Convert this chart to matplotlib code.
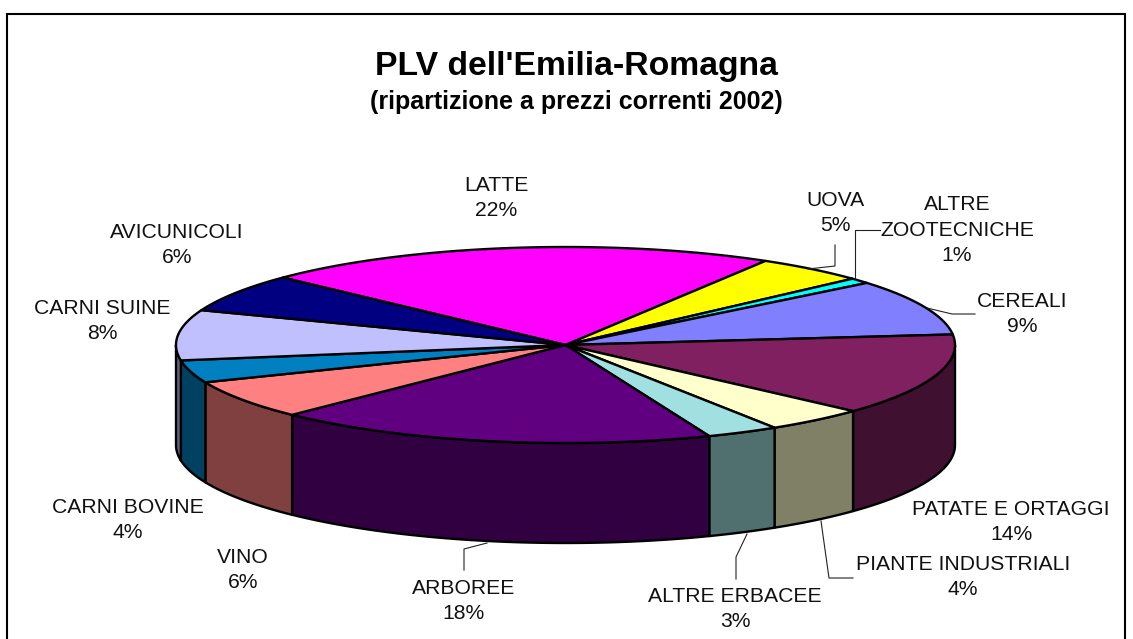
# -*- coding: utf-8 -*-
"""
PLV dell'Emilia-Romagna, torta 3D
"""

import matplotlib
matplotlib.use('Agg')
import matplotlib.pyplot as plt
from matplotlib.patches import Polygon, Rectangle
import numpy as np

# dati
names = ['LATTE', 'UOVA', 'ALTRE\nZOOTECNICHE', 'CEREALI', 'PATATE E ORTAGGI',
         'PIANTE INDUSTRIALI', 'ALTRE ERBACEE', 'ARBOREE', 'VINO',
         'CARNI BOVINE', 'CARNI SUINE', 'AVICUNICOLI']
values = [21.5, 4.6, 0.9, 9.2, 13.5, 4.2, 3.0, 18.4, 6.4, 3.7, 8.3, 6.3]
colors = ['#FF00FF', '#FFFF00', '#00FFFF', '#8080FF', '#802060', '#FFFFCC',
          '#A0E0E0', '#600080', '#FF8080', '#0080C0', '#C0C0FF', '#000080']

# centri delle etichette (pixel)
label_x = [496, 835, 957, 1022, 1011, 963, 735, 464, 243, 128, 102, 177]
label_y = [198, 213, 230, 314, 522, 577, 609, 601, 570, 520, 321, 245]

# linee di richiamo (pixel)
leaders = [
    ([835, 835, 808], [245, 266, 269]),
    ([880, 855, 855], [230, 230, 278]),
    ([975, 952, 927], [314, 314, 308]),
    ([464, 464, 487], [570, 549, 543]),
    ([736, 736, 747], [579, 557, 534]),
    ([853, 829, 821], [578, 578, 521]),
]

cx, cy = 565.5, 345
rx, ry = 389.5, 98
depth = 100
start = 136.5


def rim(a, dy=0):
    a = np.radians(a)
    return np.column_stack([cx + rx * np.cos(a), cy - ry * np.sin(a) + dy])


plt.rcParams['font.family'] = ['Liberation Sans', 'DejaVu Sans']
fig = plt.figure(figsize=(11.33, 6.39), dpi=100)
ax = fig.add_axes([0, 0, 1, 1])
ax.set_xlim(0, 1133)
ax.set_ylim(639, 0)
ax.axis('off')

ax.add_patch(Rectangle((7, 14), 1118, 660, fc='white', ec='black', lw=1.5))

fractions = np.array(values) / sum(values) * 360
edges = start - np.concatenate([[0], np.cumsum(fractions)])

# fianchi (solo meta' davanti)
for i in range(len(values)):
    a0, a1 = min(edges[i], 0), max(edges[i + 1], -180)
    if a0 <= a1:
        continue
    t = np.linspace(a0, a1, 60)
    pts = np.vstack([rim(t), rim(t[::-1], depth)])
    dark = tuple(c * 0.5 for c in matplotlib.colors.to_rgb(colors[i]))
    ax.add_patch(Polygon(pts, closed=True, fc=dark, ec='black', lw=1.7, joinstyle='round'))

# facce superiori
for i in range(len(values)):
    t = np.linspace(edges[i], edges[i + 1], 80)
    pts = np.vstack([[cx, cy], rim(t)])
    ax.add_patch(Polygon(pts, closed=True, fc=colors[i], ec='black', lw=1.7, joinstyle='round'))

for xs, ys in leaders:
    ax.plot(xs, ys, color='#222222', lw=0.8)

for i in range(len(names)):
    ax.text(label_x[i], label_y[i], names[i] + '\n%d%%' % round(values[i] + 1e-6),
            ha='center', va='center', fontsize=15.2, linespacing=1.46, color='#111111')

ax.text(576.5, 67, "PLV dell'Emilia-Romagna", ha='center', va='center',
        fontsize=24.3, fontweight='bold')
ax.text(576.5, 102, '(ripartizione a prezzi correnti 2002)', ha='center', va='center',
        fontsize=18, fontweight='bold')

fig.savefig('out.png', dpi=100)
